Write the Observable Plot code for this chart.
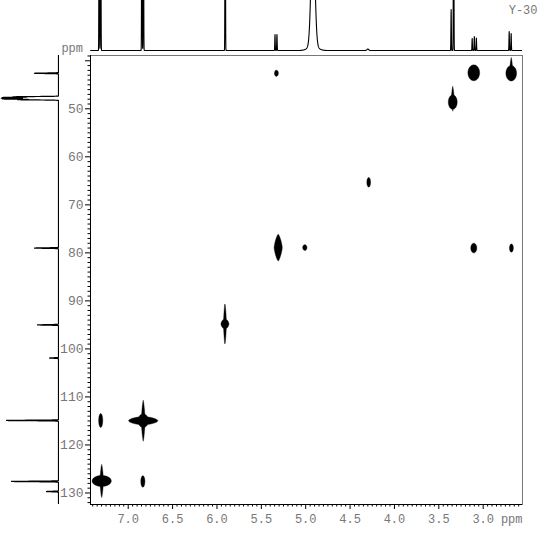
<!DOCTYPE html>
<html><head><meta charset="utf-8">
<script src="https://cdn.jsdelivr.net/npm/d3@7"></script>
<script src="https://cdn.jsdelivr.net/npm/@observablehq/plot@0.6"></script>
<style>
html,body{margin:0;padding:0;background:#fff;}
#chart{position:relative;width:547px;height:534px;overflow:hidden;background:#fff;}
#chart svg{position:absolute;background:transparent;}
</style></head><body><div id="chart"></div>
<script>
// ---- axes (ppm) ----
const xDomain = [7.425, 2.557];          // 1H, reversed
const yDomain = [38.9, 132.4];           // 13C, downward
const xMajorTicks = [7.0, 6.5, 6.0, 5.5, 5.0, 4.5, 4.0, 3.5, 3.0];
const yMajorTicks = [40, 50, 60, 70, 80, 90, 100, 110, 120, 130];
const yTickLabels = ["", "50", "60", "70", "80", "90", "100", "110", "120", "130"];
const sampleName = "Y-30";
const unitLabel = "ppm";

// ---- 1H projection (top): shift, height, line width ----
const hShift  = [7.327, 7.310, 6.846, 6.829, 5.907, 5.346, 5.324, 4.918, 4.918, 4.300, 3.361, 3.333, 3.124, 3.100, 3.077, 2.707, 2.685];
const hHeight = [300,   300,   300,   300,   300,   16,    16,    120,   5,     1.5,   41,    300,   12,    14,    12.5,  19,    17];
const hWidth  = [0.0025,0.0025,0.0025,0.0025,0.0025,0.0025,0.0025,0.021, 0.05,  0.01,  0.0025,0.0025,0.0025,0.0025,0.0025,0.0025,0.0025];

// ---- 13C projection (left): shift, height, line width ----
const cShift  = [42.6, 47.5, 47.65, 47.8, 47.95, 48.1, 79.0, 95.0, 101.9, 114.9, 127.6, 129.7];
const cHeight = [24,   45,   55,    56,   55,    40,   24,   21,   9,     52,    47,    12];
const cWidth  = [0.05, 0.05, 0.05,  0.05, 0.05,  0.05, 0.05, 0.05, 0.05,  0.05,  0.05,  0.05];

// ---- 2D cross peaks (components): 1H, 13C, half-widths, shape exponent ----
const cpH     = [5.33, 3.106, 2.684, 2.684, 3.343, 3.343, 4.29, 5.31, 5.01, 3.106, 2.682, 5.91, 5.91, 7.31, 6.831, 6.831, 6.831, 7.299, 7.299, 6.835];
const cpC     = [42.6, 42.5,  42.6,  41.6,  48.6,  47.9,  65.3, 78.9, 78.9, 79.0,  79.0,  94.8, 94.8, 114.9, 114.95, 114.95, 114.95, 127.5, 127.5, 127.6];
const cpRH    = [0.022, 0.066, 0.06, 0.015, 0.05,  0.016, 0.021, 0.046, 0.024, 0.034, 0.022, 0.045, 0.017, 0.023, 0.165, 0.022, 0.06, 0.108, 0.02, 0.023];
const cpRC    = [0.65, 1.65,  1.6,   2.3,   1.5,   2.6,   1.0,   2.8,  0.6,   1.0,   0.85,  1.05,  4.4,   1.45,  0.85,  4.3,   1.4,  1.15,  3.5,  1.2];
const cpShape = [2,    2,     2,     1.3,   2,     1.3,   2,     1.35, 2,     2,     2,     1.7,   1.3,   2,     1.7,   1.3,   2,    2,     1.3,  2];

// ---- build traces from the peak tables ----
const hSpec = d3.range(xDomain[1], xDomain[0], 0.001).map(x => ({
  x, y: d3.sum(hShift, (c, i) => hHeight[i] * Math.exp(-0.5 * ((x - c) / hWidth[i]) ** 2))
}));
const cSpec = d3.range(yDomain[0], yDomain[1], 0.005).map(y => ({
  y, x: d3.sum(cShift, (c, i) => cHeight[i] * Math.exp(-0.5 * ((y - c) / cWidth[i]) ** 2))
}));
function crossValue(h, c) {
  let v = 0;
  for (let i = 0; i < cpH.length; ++i) {
    const dx = Math.abs((h - cpH[i]) / cpRH[i]), dy = Math.abs((c - cpC[i]) / cpRC[i]);
    if (dx > 4 || dy > 4) continue;
    v = Math.max(v, Math.exp(-(Math.pow(dx, cpShape[i]) + Math.pow(dy, cpShape[i]))));
  }
  return v;
}
// dense grid of the 2D surface over the frame (row-major, y then x)
const gridW = 864, gridH = 898;
const grid = new Float64Array(gridW * gridH);
for (let j = 0; j < gridH; ++j) {
  const c = yDomain[0] + (j + 0.5) * (yDomain[1] - yDomain[0]) / gridH;
  for (let i = 0; i < gridW; ++i) {
    const h = xDomain[0] + (i + 0.5) * (xDomain[1] - xDomain[0]) / gridW;
    grid[j * gridW + i] = crossValue(h, c);
  }
}
const xMinor = d3.range(2.6, 7.42, 0.05).map(d => +d.toFixed(2)).filter(d => !xMajorTicks.includes(d));
const yMinor = d3.range(39, 133, 1).filter(d => !yMajorTicks.includes(d));

const font = "Liberation Mono, DejaVu Sans Mono, monospace";
const textGray = "#777";

const mainPlot = Plot.plot({
  width: 547, height: 534,
  marginLeft: 90, marginRight: 25, marginTop: 55, marginBottom: 30,
  style: {fontFamily: font, fontSize: "12px", background: "transparent"},
  x: {domain: xDomain, axis: null},
  y: {domain: yDomain, reverse: true, axis: null},
  marks: [
    Plot.frame({stroke: "#777"}),
    Plot.contour(Array.from(grid), {width: gridW, height: gridH, x1: xDomain[0], x2: xDomain[1], y1: yDomain[0], y2: yDomain[1],
      thresholds: [Math.exp(-1)], fill: "black", stroke: "black", strokeWidth: 0.4, clip: true}),
    Plot.ruleX([xDomain[0]], {stroke: "black"}),
    Plot.ruleY([yDomain[1]], {stroke: "black"}),
    Plot.axisX({ticks: xMinor, tickSize: 2.5, fill: "none", stroke: "black", label: null}),
    Plot.axisX({ticks: xMajorTicks, tickSize: 5, tickPadding: 5, tickFormat: d3.format(".1f"), stroke: "black", fill: textGray, fontSize: 12, label: null}),
    Plot.axisY({ticks: yMinor, tickSize: 2.5, fill: "none", stroke: "black", label: null}),
    Plot.axisY({ticks: yMajorTicks, tickSize: 5, tickPadding: 2, tickFormat: d => yTickLabels[yMajorTicks.indexOf(d)], stroke: "black", fill: textGray, fontSize: 13, label: null}),
    Plot.text([unitLabel], {frameAnchor: "bottom-right", dy: 15, textAnchor: "end", lineAnchor: "middle", fill: textGray, fontSize: 12}),
    Plot.text([unitLabel], {frameAnchor: "top-left", dx: -7.5, dy: -7, textAnchor: "end", lineAnchor: "middle", fill: textGray, fontSize: 12})
  ]
});

const topPlot = Plot.plot({
  width: 547, height: 51,
  marginLeft: 90, marginRight: 25, marginTop: 0, marginBottom: 0,
  style: {fontFamily: font, fontSize: "12px", background: "transparent"},
  x: {domain: xDomain, axis: null},
  y: {domain: [-1, 50], axis: null},
  marks: [
    Plot.line(hSpec, {x: "x", y: "y", stroke: "black", strokeWidth: 1.1, clip: true}),
    Plot.text([sampleName], {frameAnchor: "top-right", dx: 15, dy: 10, textAnchor: "end", lineAnchor: "middle", fill: textGray, fontSize: 12})
  ]
});

const leftPlot = Plot.plot({
  width: 62, height: 534,
  marginLeft: 0, marginRight: 3, marginTop: 55, marginBottom: 30,
  style: {background: "transparent"},
  x: {domain: [-1, 58], reverse: true, axis: null},
  y: {domain: yDomain, reverse: true, axis: null},
  marks: [
    Plot.line(cSpec, {x: "x", y: "y", stroke: "black", strokeWidth: 1.2, clip: true})
  ]
});

const chart = document.getElementById("chart");
for (const svg of [mainPlot, topPlot, leftPlot]) {
  svg.style.left = "0px"; svg.style.top = "0px";
  chart.appendChild(svg);
}
</script></body></html>
